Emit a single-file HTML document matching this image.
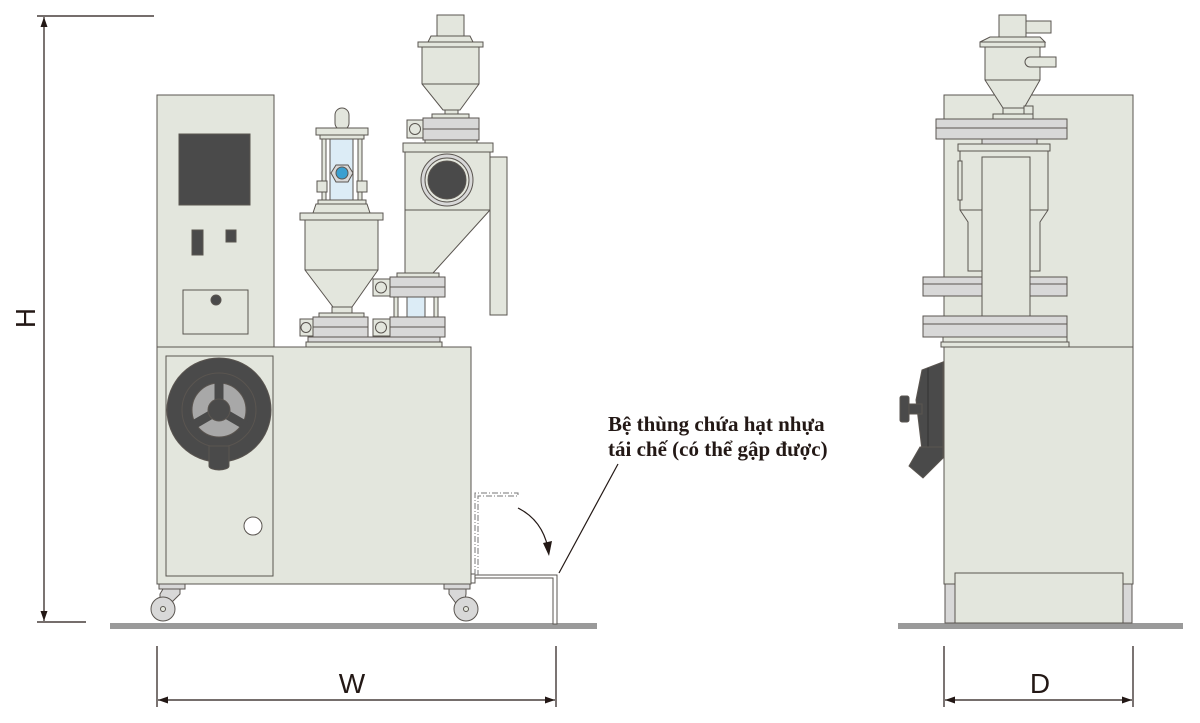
<!DOCTYPE html>
<html><head><meta charset="utf-8"><style>html,body{margin:0;padding:0;background:#fff}svg{display:block}</style></head>
<body>
<svg width="1200" height="723" viewBox="0 0 1200 723" xmlns="http://www.w3.org/2000/svg">
<defs>
<marker id="ar" viewBox="0 0 10 10" refX="10" refY="5" markerWidth="10" markerHeight="10" markerUnits="userSpaceOnUse" orient="auto-start-reverse"><path d="M0,1.5 L10,5 L0,8.5 z" fill="#231815"/></marker>
</defs>
<g stroke="#231815" stroke-width="1.2" fill="none">
<line x1="37" y1="16" x2="154" y2="16"/>
<line x1="37" y1="622" x2="86" y2="622"/>
<line x1="44" y1="17" x2="44" y2="621" marker-start="url(#ar)" marker-end="url(#ar)"/>
<line x1="157" y1="646" x2="157" y2="707"/>
<line x1="556" y1="646" x2="556" y2="707"/>
<line x1="158" y1="700" x2="555" y2="700" marker-start="url(#ar)" marker-end="url(#ar)"/>
<line x1="944" y1="646" x2="944" y2="707"/>
<line x1="1133" y1="646" x2="1133" y2="707"/>
<line x1="945" y1="700" x2="1132" y2="700" marker-start="url(#ar)" marker-end="url(#ar)"/>
</g>
<g font-family="Liberation Sans, sans-serif" font-size="28" fill="#231815">
<text x="352" y="693" text-anchor="middle">W</text>
<text x="1040" y="693" text-anchor="middle">D</text>
<text transform="translate(35,318) rotate(-90)" text-anchor="middle">H</text>
</g>
<rect x="110" y="623" width="487" height="6" fill="#9a9a9a"/>
<rect x="898" y="623" width="285" height="6" fill="#9a9a9a"/>

<g stroke="#5a5550" stroke-width="1" fill="#e3e6dd">
<rect x="157" y="95" width="117" height="252"/>
<rect x="179" y="134" width="71" height="71" fill="#4a4a4a"/>
<rect x="192" y="230" width="11" height="25" fill="#4a4a4a"/>
<rect x="226" y="230" width="10" height="12" fill="#4a4a4a"/>
<rect x="183" y="290" width="65" height="44"/>
<circle cx="216" cy="300" r="5" fill="#4a4a4a"/>
<rect x="157" y="347" width="314" height="237"/>
<rect x="166" y="356" width="107" height="220"/>
<circle cx="219" cy="410" r="52" fill="#4a4a4a"/>
<circle cx="219" cy="410" r="37" fill="#4a4a4a"/>
<circle cx="219" cy="410" r="27" fill="#a8a8a8"/>
<g stroke="#4a4a4a" stroke-width="9"><line x1="219" y1="410" x2="219" y2="374"/><line x1="219" y1="410" x2="188" y2="428"/><line x1="219" y1="410" x2="250" y2="428"/></g>
<circle cx="219" cy="410" r="11" fill="#4a4a4a"/>
<path d="M209 446 V466 A10 4 0 0 0 229 466 V446 Z" fill="#4a4a4a"/>
<circle cx="253" cy="526" r="9" fill="#fff"/>
<rect x="159" y="584" width="26" height="5" fill="#d8d8d8"/>
<path d="M163 589 H180 V594 L168 606 H160 V594 Z" fill="#d8d8d8"/>
<circle cx="163" cy="609" r="12" fill="#d8d8d8"/>
<circle cx="163" cy="609" r="2.5"/>
<rect x="444" y="584" width="26" height="5" fill="#d8d8d8"/>
<path d="M449 589 H466 V594 L464 606 H458 L449 594 Z" fill="#d8d8d8"/>
<circle cx="466" cy="609" r="12" fill="#d8d8d8"/>
<circle cx="466" cy="609" r="2.5"/>
<path d="M471 578 H553 V624 H557 V575 H471 Z" fill="#fff"/>
<rect x="471" y="574" width="4" height="9" fill="#fff"/>
<rect x="306" y="342" width="136" height="5"/>
<rect x="308" y="337" width="132" height="5" fill="#d8d8d8"/>
<rect x="335" y="108" width="14" height="22" rx="7"/>
<rect x="316" y="128" width="52" height="7"/>
<rect x="320" y="135" width="44" height="4"/>
<rect x="330" y="139" width="23" height="61" fill="#dcecf6"/>
<rect x="322" y="139" width="4" height="61"/>
<rect x="358" y="139" width="4" height="61"/>
<rect x="317" y="181" width="10" height="11"/>
<rect x="357" y="181" width="10" height="11"/>
<path d="M336 165 H348 L353 173 L348 182 H336 L331 173 Z" fill="#d8d8d8"/>
<circle cx="342" cy="173" r="6" fill="#3a9fd0"/>
<rect x="318" y="200" width="48" height="4"/>
<path d="M316 204 H367 L370 213 H313 Z"/>
<rect x="300" y="213" width="83" height="7"/>
<path d="M305 220 H378 V270 L352 307 H333 L305 270 Z"/>
<line x1="305" y1="270" x2="378" y2="270"/>
<rect x="332" y="307" width="20" height="6"/>
<rect x="319" y="313" width="45" height="4"/>
<rect x="313" y="317" width="55" height="20" fill="#d8d8d8"/><line x1="313" y1="327" x2="368" y2="327"/>
<rect x="300" y="319" width="13" height="17"/><circle cx="306" cy="327.5" r="5"/>
<rect x="437" y="15" width="27" height="21"/>
<path d="M431 36 H470 L473 42 H428 Z"/>
<rect x="418" y="42" width="65" height="5"/>
<path d="M422 47 H479 V84 L460 110 H443 L422 84 Z"/>
<line x1="422" y1="84" x2="479" y2="84"/>
<rect x="445" y="110" width="13" height="4"/>
<rect x="432" y="114" width="37" height="4"/>
<rect x="423" y="118" width="56" height="22" fill="#d8d8d8"/><line x1="423" y1="129" x2="479" y2="129"/>
<rect x="407" y="120" width="16" height="18"/><circle cx="415" cy="129" r="5.5"/>
<rect x="425" y="140" width="52" height="3"/>
<rect x="403" y="143" width="90" height="9"/>
<rect x="490" y="157" width="17" height="158"/>
<path d="M405 152 H490 V210 L433 273 H405 Z"/>
<line x1="405" y1="210" x2="490" y2="210"/>
<circle cx="447" cy="180" r="26" fill="#d8d8d8"/>
<circle cx="447" cy="180" r="22" fill="#e3e6dd"/>
<circle cx="447" cy="180" r="19" fill="#4a4a4a"/>
<rect x="397" y="273" width="42" height="4"/>
<rect x="390" y="277" width="55" height="20" fill="#d8d8d8"/><line x1="390" y1="287" x2="445" y2="287"/>
<rect x="373" y="279" width="17" height="17"/><circle cx="381" cy="287.5" r="5.5"/>
<rect x="394" y="297" width="4" height="20"/><rect x="434" y="297" width="4" height="20"/>
<rect x="407" y="297" width="18" height="20" fill="#dcecf6"/>
<rect x="390" y="317" width="55" height="20" fill="#d8d8d8"/><line x1="390" y1="327" x2="445" y2="327"/>
<rect x="373" y="319" width="17" height="17"/><circle cx="381" cy="327.5" r="5.5"/>
</g>
<g fill="none" stroke="#777" stroke-width="1" stroke-dasharray="6,2,1,2">
<path d="M475 575 V493 H518 V496 H478 V575"/>
</g>
<path d="M518 508 Q542 520 548 548" fill="none" stroke="#231815" stroke-width="1.2"/>
<path d="M543 543 L549 556 L552 541 Z" fill="#231815"/>
<line x1="559" y1="573" x2="618" y2="464" stroke="#231815" stroke-width="1.2"/>
<g font-family="Liberation Serif, serif" font-size="21" fill="#231815" font-weight="bold">
<text x="608" y="431">Bệ thùng chứa hạt nhựa</text>
<text x="608" y="456">tái chế (có thể gập được)</text>
</g>

<g stroke="#5a5550" stroke-width="1" fill="#e3e6dd">
<rect x="944" y="95" width="189" height="252"/>
<rect x="999" y="15" width="27" height="22"/>
<rect x="1026" y="21" width="25" height="12"/>
<path d="M990 37 H1040 L1045 42 H980 Z"/>
<rect x="980" y="42" width="65" height="5"/>
<path d="M985 47 H1040 V80 L1024 108 H1003 L985 80 Z"/>
<line x1="985" y1="80" x2="1040" y2="80"/>
<path d="M1030 57 H1056 V67 H1030 A5 5 0 0 1 1030 57 Z"/>
<rect x="1003" y="108" width="21" height="6"/>
<rect x="1024" y="106" width="9" height="10"/>
<rect x="993" y="114" width="40" height="5"/>
<rect x="936" y="119" width="131" height="20" fill="#d8d8d8"/><line x1="936" y1="128" x2="1067" y2="128"/>
<rect x="982" y="139" width="55" height="5" fill="#d8d8d8"/>
<rect x="958" y="144" width="92" height="7"/>
<path d="M960 151 H1048 V210 L1040 222 V271 H968 V222 L960 210 Z"/>
<rect x="958" y="161" width="4" height="39"/>
<line x1="960" y1="210" x2="1048" y2="210"/>
<rect x="923" y="277" width="144" height="19" fill="#d8d8d8"/><line x1="923" y1="284" x2="1067" y2="284"/>
<rect x="982" y="157" width="48" height="159"/>
<rect x="923" y="316" width="144" height="21" fill="#d8d8d8"/><line x1="923" y1="324" x2="1067" y2="324"/>
<rect x="943" y="337" width="124" height="5"/>
<rect x="941" y="342" width="128" height="5"/>
<rect x="944" y="347" width="189" height="237"/>
<path d="M943 362 L922 370 L916 400 L922 450 L943 456 Z" fill="#4a4a4a"/>
<line x1="928" y1="368" x2="928" y2="452" stroke="#333"/>
<rect x="900" y="396" width="9" height="26" rx="2" fill="#4a4a4a"/>
<rect x="909" y="404" width="13" height="10" fill="#4a4a4a"/>
<path d="M920 447 L943 447 L943 458 L923 478 L909 466 Z" fill="#4a4a4a"/>
<rect x="945" y="584" width="12" height="39" fill="#d8d8d8"/>
<rect x="1120" y="584" width="12" height="39" fill="#d8d8d8"/>
<rect x="955" y="573" width="168" height="50"/>
</g>
</svg>
</body></html>
